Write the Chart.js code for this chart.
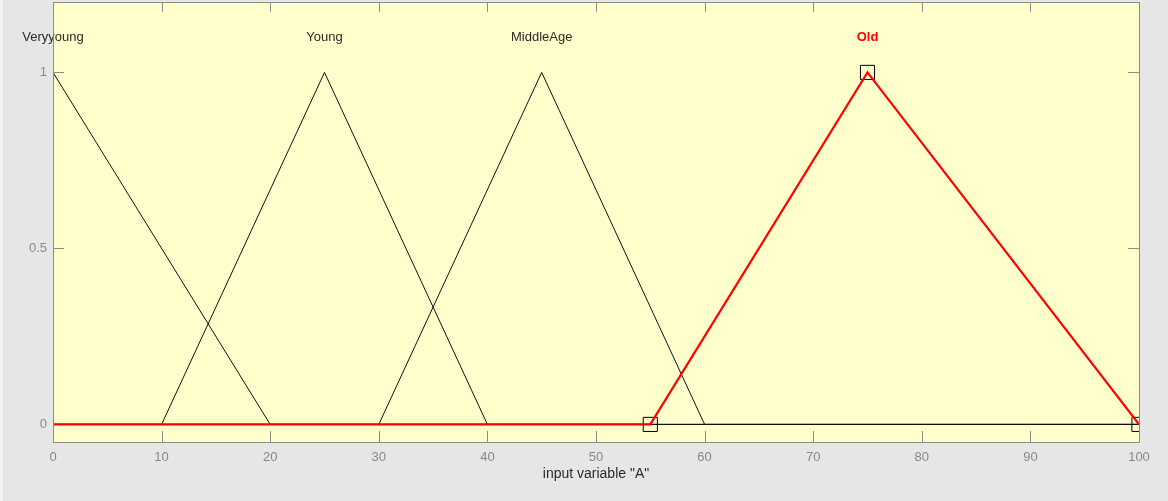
<!DOCTYPE html>
<html>
<head>
<meta charset="utf-8">
<script src="https://cdn.jsdelivr.net/npm/chart.js@4.4.1/dist/chart.umd.min.js"></script>
<style>
  html, body { margin: 0; padding: 0; background: #e6e6e6; }
  #wrap { width: 1168px; height: 501px; position: relative; }
</style>
</head>
<body>
<div id="wrap"><canvas id="mf" width="1168" height="501"></canvas></div>
<script>
// Membership functions of input variable "A" (triangular shapes over 0..100)
const mfNames = ['Veryyoung', 'Young', 'MiddleAge', 'Old'];

const veryYoungX = [0, 20, 100];
const veryYoungY = [1, 0, 0];

const youngX = [0, 10, 25, 40, 100];
const youngY = [0, 0, 1, 0, 0];

const middleAgeX = [0, 30, 45, 60, 100];
const middleAgeY = [0, 0, 1, 0, 0];

const oldX = [0, 55, 75, 100];
const oldY = [0, 0, 1, 0];

// Vertex handles of the selected function (Old)
const handleX = [55, 75, 100];
const handleY = [0, 1, 0];

// Label anchors: peak position of each function, placed just above the peak
const labelX = [0, 25, 45, 75];
const labelY = [1.1, 1.1, 1.1, 1.1];

const xTicks = [0, 10, 20, 30, 40, 50, 60, 70, 80, 90, 100];
const yTicks = [0, 0.5, 1];
const yTickLabels = ['0', '0.5', '1'];

const FONT = '"Liberation Sans", Arial, sans-serif';
const AXIS_GRAY = '#8c8c8c';

const toPts = (xs, ys) => xs.map((x, i) => ({ x: x, y: ys[i] }));

const frame = {
  id: 'frame',
  beforeDraw(chart) {
    const { ctx, chartArea: a } = chart;
    ctx.save();
    ctx.fillStyle = '#e6e6e6';
    ctx.fillRect(0, 0, chart.width, chart.height);
    ctx.fillStyle = '#f3f3f3';
    ctx.fillRect(0, 0, 3, chart.height);
    ctx.fillStyle = '#ffffcc';
    ctx.fillRect(a.left, a.top, a.right - a.left, a.bottom - a.top);
    ctx.restore();
  },
  beforeDatasetsDraw(chart) {
    const { ctx, chartArea: a, scales } = chart;
    ctx.save();
    ctx.strokeStyle = AXIS_GRAY;
    ctx.lineWidth = 1;
    ctx.beginPath();
    xTicks.forEach(v => {
      const px = Math.round(scales.x.getPixelForValue(v)) + 0.5;
      ctx.moveTo(px, a.bottom); ctx.lineTo(px, a.bottom - 11);
      ctx.moveTo(px, a.top); ctx.lineTo(px, a.top + 10);
    });
    yTicks.forEach(v => {
      const py = Math.round(scales.y.getPixelForValue(v)) + 0.5;
      ctx.moveTo(a.left, py); ctx.lineTo(a.left + 11, py);
      ctx.moveTo(a.right, py); ctx.lineTo(a.right - 11, py);
    });
    ctx.stroke();
    // names above the peaks
    ctx.textAlign = 'center';
    ctx.textBaseline = 'middle';
    mfNames.forEach((name, i) => {
      const selected = i === mfNames.length - 1;
      ctx.font = (selected ? 'bold ' : '') + '13px ' + FONT;
      ctx.fillStyle = selected ? '#ff0000' : '#2a2a2a';
      ctx.fillText(name, scales.x.getPixelForValue(labelX[i]), scales.y.getPixelForValue(labelY[i]));
    });
    ctx.restore();
  },
  afterDraw(chart) {
    const { ctx, chartArea: a } = chart;
    ctx.save();
    ctx.strokeStyle = AXIS_GRAY;
    ctx.lineWidth = 1;
    ctx.strokeRect(Math.round(a.left) + 0.5, Math.round(a.top) + 0.5,
                   Math.round(a.right - a.left), Math.round(a.bottom - a.top));
    ctx.restore();
  }
};

const lineStyle = (color, width) => ({
  showLine: true, borderColor: color, borderWidth: width, pointRadius: 0,
  pointHoverRadius: 0, tension: 0, fill: false, backgroundColor: color
});

new Chart(document.getElementById('mf'), {
  type: 'scatter',
  data: {
    datasets: [
      Object.assign({ label: mfNames[3], data: toPts(oldX, oldY) }, lineStyle('#ff0000', 2.2)),
      {
        label: 'handles', data: toPts(handleX, handleY), showLine: false,
        pointStyle: 'rect', pointRadius: 10, pointHoverRadius: 10,
        borderColor: '#000000', borderWidth: 1, backgroundColor: 'rgba(0,0,0,0)', clip: 0
      },
      Object.assign({ label: mfNames[0], data: toPts(veryYoungX, veryYoungY) }, lineStyle('#111111', 1)),
      Object.assign({ label: mfNames[1], data: toPts(youngX, youngY) }, lineStyle('#111111', 1)),
      Object.assign({ label: mfNames[2], data: toPts(middleAgeX, middleAgeY) }, lineStyle('#111111', 1))
    ]
  },
  options: {
    responsive: false,
    animation: false,
    events: [],
    layout: { autoPadding: false, padding: { top: 2, right: 29, bottom: 0, left: 0 } },
    plugins: { legend: { display: false }, tooltip: { enabled: false } },
    scales: {
      x: {
        type: 'linear', min: 0, max: 100,
        grid: { display: false, drawTicks: false, tickLength: 0 }, border: { display: false },
        afterBuildTicks(s) { s.ticks = xTicks.map(v => ({ value: v })); },
        ticks: { padding: 8, color: '#888888', font: { family: FONT, size: 13 }, maxRotation: 0, autoSkip: false },
        title: { display: true, text: 'input variable "A"', color: '#2a2a2a',
                 font: { family: FONT, size: 14 }, padding: { top: 0, bottom: 18 } },
        afterFit(s) { s.height = 59; s.paddingLeft = 0; s.paddingRight = 0; }
      },
      y: {
        type: 'linear', min: -0.05, max: 1.2,
        grid: { display: false, drawTicks: false, tickLength: 0 }, border: { display: false },
        afterBuildTicks(s) { s.ticks = yTicks.map(v => ({ value: v })); },
        ticks: { padding: 6, color: '#888888', font: { family: FONT, size: 13 },
                 callback: (v) => yTickLabels[yTicks.indexOf(v)] },
        afterFit(s) { s.width = 53; s.paddingTop = 0; s.paddingBottom = 0; }
      }
    }
  },
  plugins: [frame]
});
</script>
</body>
</html>
